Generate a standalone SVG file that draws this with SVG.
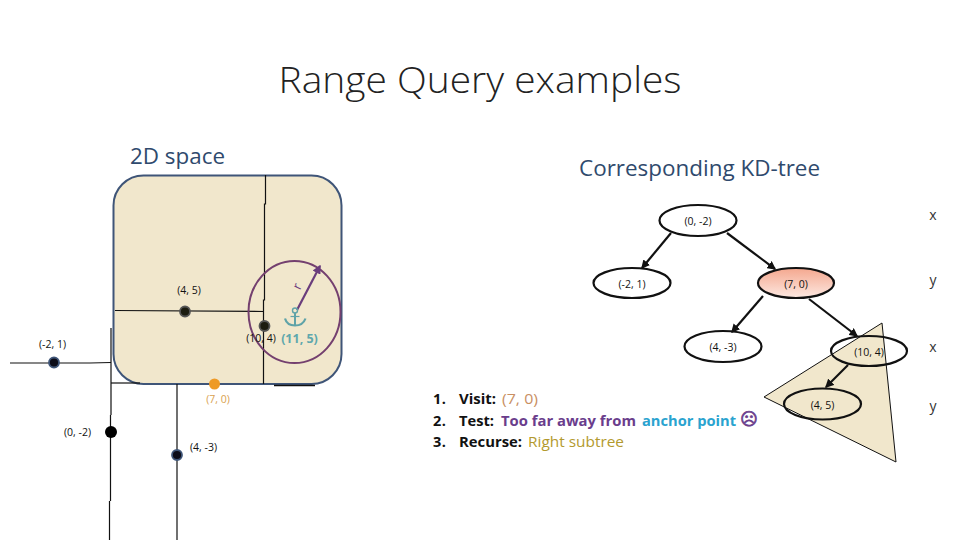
<svg xmlns="http://www.w3.org/2000/svg" width="960" height="540" viewBox="0 0 960 540">
<style>
text{font-family:"Open Sans","Noto Sans","Liberation Sans",sans-serif;fill:#111}
.s{font-size:10.500px;text-anchor:middle}
.ax{font-size:14px;text-anchor:middle;fill:#333}
.g{fill:none;stroke:#111;stroke-width:1.2}
.n{fill:none;stroke:#111;stroke-width:2.2}
.c{stroke:#111;stroke-width:2.2;fill:none;marker-end:url(#a)}
.li{font-size:14.500px;font-weight:700}
</style>
<defs>
<marker id="a" markerWidth="4" markerHeight="4" refX="3.4" refY="2" orient="auto"><path d="M0 0L4 2L0 4z" fill="#111"/></marker>
<marker id="p" markerWidth="4" markerHeight="4" refX="3.4" refY="2" orient="auto"><path d="M0 0L4 2L0 4z" fill="#6a3d7c"/></marker>
<linearGradient id="h" x1="0" y1="0" x2="0" y2="1"><stop offset="0" stop-color="#f4a78e"/><stop offset="1" stop-color="#fde9e2"/></linearGradient>
</defs>
<rect width="960" height="540" fill="#fff"/>
<text x="480" y="93" font-size="36" text-anchor="middle" textLength="403" lengthAdjust="spacingAndGlyphs" style="font-weight:300;fill:#222">Range Query examples</text>
<text x="177.500" y="164" font-size="21" text-anchor="middle" textLength="95" lengthAdjust="spacingAndGlyphs" style="fill:#2f4a6d">2D space</text>
<text x="699.500" y="176" font-size="21" text-anchor="middle" textLength="241" lengthAdjust="spacingAndGlyphs" style="fill:#2f4a6d">Corresponding KD-tree</text>

<g id="space">
<rect x="113.500" y="175.500" width="228" height="208.500" rx="30" ry="30" fill="#f1e7cc" stroke="#3f5578" stroke-width="2"/>
</g>
<g id="splits">
<path class="g" d="M265.500 175V204L264.500 204V300L263.500 300V384"/>
<path class="g" d="M115 310.500L264 311.500"/>
<path class="g" d="M10 363H90L111 362.500"/>
<path class="g" d="M111 328V415M110.500 415V501M109.500 501V540"/>
<path class="g" d="M111 383H140"/>
<path class="g" d="M177 384V540"/>
<path d="M274 385.500H315" stroke="#111" stroke-width="1.500"/>
</g>

<g id="query">
<ellipse cx="294.500" cy="312" rx="46" ry="51" fill="none" stroke="#74406f" stroke-width="2"/>
<path d="M297 310L320 266" stroke="#6a3d7c" stroke-width="2.200" fill="none" marker-end="url(#p)"/>
<text transform="translate(301,288) rotate(-65)" font-size="13" text-anchor="middle" style="fill:#6a3d7c">r</text>
</g>
<g id="anchor" fill="none" stroke="#5fa3a8" stroke-width="2">
<circle cx="295" cy="310.500" r="2.500" stroke-width="1.400"/>
<path d="M295 313V325.500"/>
<path d="M285 318.500Q287 325.500 295 325.500Q303 325.500 305.500 318.500" stroke-width="2.200"/>
<path d="M290.500 316.500H299.500" stroke-width="1.200"/>
</g>

<g id="p-4-5"><circle cx="185" cy="311.500" r="5" fill="#1c1c10" stroke="#555" stroke-width="1.800"/><text class="s" x="189" y="293.500">(4, 5)</text></g>
<g id="p-10-4"><circle cx="264.500" cy="326" r="5" fill="#1c1c10" stroke="#555" stroke-width="1.800"/><text class="s" x="261" y="342">(10, 4)</text></g>
<g id="p-11-5"><text x="299.500" y="343" font-size="12.500" font-weight="700" text-anchor="middle" style="fill:#5fa8ad">(11, 5)</text></g>
<g id="p-m2-1"><circle cx="54" cy="362.500" r="5" fill="#0c0c18" stroke="#3f5578" stroke-width="1.800"/><text class="s" x="52.500" y="348">(-2, 1)</text></g>
<g id="p-7-0"><circle cx="214.500" cy="384" r="5.500" fill="#ee9a26"/><text class="s" x="218" y="403" style="fill:#d9a24f">(7, 0)</text></g>
<g id="p-0-m2"><circle cx="111" cy="432" r="6" fill="#000"/><text class="s" x="77.500" y="436">(0, -2)</text></g>
<g id="p-4-m3"><circle cx="177" cy="455" r="5" fill="#0c0c18" stroke="#3f5578" stroke-width="1.800"/><text class="s" x="203.500" y="451">(4, -3)</text></g>

<polygon id="subtree" points="882,323 764,397 896,462" fill="#f1e7cc" stroke="#111" stroke-width="1"/>

<g id="connectors">
<path class="c" d="M671 233L642 268"/>
<path class="c" d="M727 233L775 269"/>
<path class="c" d="M763 296L732 332"/>
<path class="c" d="M809 299L857 336"/>
<path class="c" d="M848 365L826 387"/>
</g>

<g id="n0"><ellipse class="n" cx="698" cy="220.500" rx="38.500" ry="15.500"/><text class="s" x="698" y="225">(0, -2)</text></g>
<g id="n1"><ellipse class="n" cx="632" cy="283" rx="38.500" ry="15"/><text class="s" x="632" y="288">(-2, 1)</text></g>
<g id="n2"><ellipse class="n" cx="796" cy="283" rx="38" ry="15" style="fill:url(#h)"/><text class="s" x="796" y="288">(7, 0)</text></g>
<g id="n3"><ellipse class="n" cx="723" cy="346.500" rx="38.500" ry="15.500"/><text class="s" x="723" y="350.500">(4, -3)</text></g>
<g id="n4"><ellipse class="n" cx="869" cy="351" rx="38" ry="15"/><text class="s" x="869" y="356">(10, 4)</text></g>
<g id="n5"><ellipse class="n" cx="822.500" cy="404" rx="38.500" ry="15.500"/><text class="s" x="822.500" y="408.500">(4, 5)</text></g>

<text class="ax" x="933" y="220">x</text>
<text class="ax" x="933" y="285">y</text>
<text class="ax" x="933" y="352">x</text>
<text class="ax" x="933" y="411">y</text>

<g id="steps">
<text class="li" x="433" y="404" textLength="13" lengthAdjust="spacing">1.</text><text class="li" x="459" y="404" textLength="37" lengthAdjust="spacingAndGlyphs">Visit:</text><text x="502" y="404" font-size="14.500" textLength="36" lengthAdjust="spacingAndGlyphs" style="fill:#c98f63">(7, 0)</text>
<text class="li" x="433" y="425.500" textLength="13" lengthAdjust="spacing">2.</text><text class="li" x="459" y="425.500" textLength="35" lengthAdjust="spacingAndGlyphs">Test:</text><text class="li" x="501" y="425.500" textLength="135" lengthAdjust="spacingAndGlyphs" style="fill:#6a3d8c">Too far away from</text><text class="li" x="642" y="425.500" textLength="94" lengthAdjust="spacingAndGlyphs" style="fill:#2aa3cf">anchor point</text>
<text x="749" y="425" font-size="17" text-anchor="middle" stroke="#6a3d8c" stroke-width="0.700" style="font-family:'DejaVu Sans',sans-serif;fill:#6a3d8c">☹</text>
<text class="li" x="433" y="447" textLength="13" lengthAdjust="spacing">3.</text><text class="li" x="459" y="447" textLength="63" lengthAdjust="spacingAndGlyphs">Recurse:</text><text x="528" y="447" font-size="14.500" textLength="96" lengthAdjust="spacingAndGlyphs" style="fill:#b39a2e">Right subtree</text>
</g>
</svg>
